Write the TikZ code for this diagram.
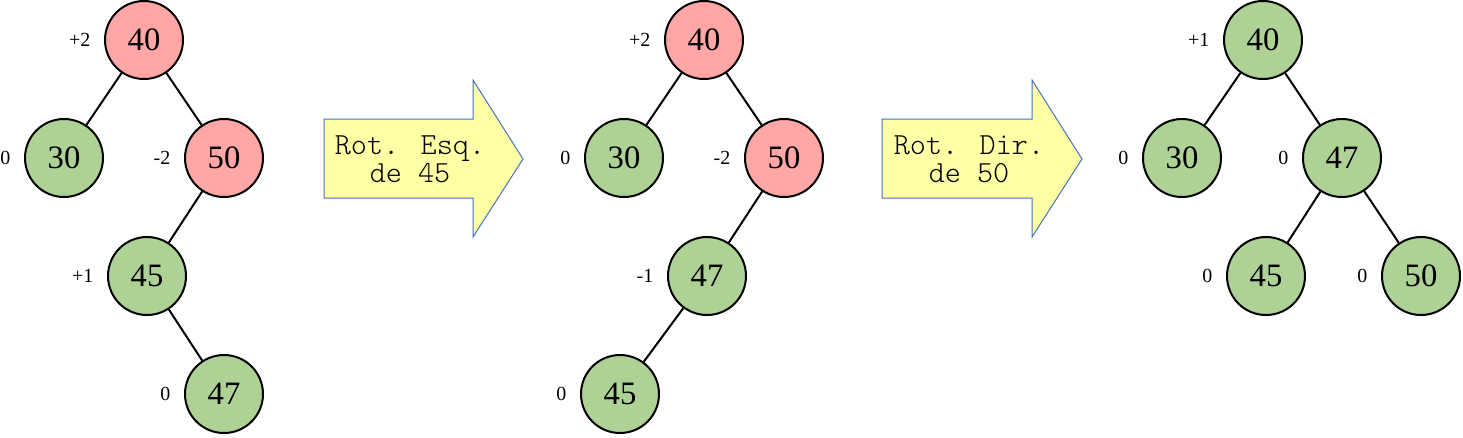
\documentclass[tikz,border=0pt]{standalone}
\usepackage{fontspec}
\setmainfont{Liberation Serif}
\newfontfamily\rotfont{Latin Modern Mono Light}
\definecolor{nodered}{HTML}{FFA6A6}
\definecolor{nodegreen}{HTML}{AED196}
\definecolor{arrowfill}{HTML}{FFFFA6}
\definecolor{arrowline}{HTML}{4472C4}
\tikzset{
  avl/.style={circle,draw=black,line width=1.5pt,minimum size=58.5pt,inner sep=0pt,font=\fontsize{24.5}{24.5}\selectfont},
  ok/.style={avl,fill=nodegreen},
  bad/.style={avl,fill=nodered},
  edge/.style={line width=1.5pt},
  rotarrow/.style={draw=arrowline,fill=arrowfill,line width=0.75pt},
  rottext/.style={align=center,inner sep=0pt,font=\rotfont\fontsize{23}{21}\selectfont}
}
\begin{document}
\begin{tikzpicture}[x=0.75pt,y=-0.75pt,label distance=10pt,
  every label/.style={inner sep=0pt,font=\fontsize{15}{15}\selectfont}]
			\useasboundingbox (0,0) rectangle (1463,437);

			%first tree
			\node [bad,label=left:{+2}] (a1) at (144,40) {40};
			\node [ok,label=left:{0}] (a2) at (64,158) {30};
			\node [bad,label=left:{-2}] (a3) at (224,158) {50};
			\node [ok,label=left:{+1}] (a4) at (147,276) {45};
			\node [ok,label=left:{0}] (a5) at (224,394) {47};

			%edges
			\draw[edge] (a1) -- (a2);
			\draw[edge] (a1) -- (a3);
			\draw[edge] (a3) -- (a4);
			\draw[edge] (a4) -- (a5);

			%first rotation
			\draw[rotarrow] (324,119) -- (473,119) -- (473,80) -- (523,159) -- (473,237) -- (473,198) -- (324,198) -- cycle;
			\node [rottext] (r1) at (410,159) {Rot. Esq.\\de 45};

			%second tree
			\node [bad,label=left:{+2}] (b1) at (704,40) {40};
			\node [ok,label=left:{0}] (b2) at (624,158) {30};
			\node [bad,label=left:{-2}] (b3) at (784,158) {50};
			\node [ok,label=left:{-1}] (b4) at (707,276) {47};
			\node [ok,label=left:{0}] (b5) at (620,394) {45};

			%edges
			\draw[edge] (b1) -- (b2);
			\draw[edge] (b1) -- (b3);
			\draw[edge] (b3) -- (b4);
			\draw[edge] (b4) -- (b5);

			%second rotation
			\draw[rotarrow] (882,119) -- (1032,119) -- (1032,80) -- (1082,159) -- (1032,237) -- (1032,198) -- (882,198) -- cycle;
			\node [rottext] (r2) at (969,159) {Rot. Dir.\\de 50};

			%third tree
			\node [ok,label=left:{+1}] (c1) at (1263,40) {40};
			\node [ok,label=left:{0}] (c2) at (1182,158) {30};
			\node [ok,label=left:{0}] (c3) at (1342,158) {47};
			\node [ok,label=left:{0}] (c4) at (1266,276) {45};
			\node [ok,label=left:{0}] (c5) at (1421,276) {50};

			%edges
			\draw[edge] (c1) -- (c2);
			\draw[edge] (c1) -- (c3);
			\draw[edge] (c3) -- (c4);
			\draw[edge] (c3) -- (c5);
		\end{tikzpicture}
\end{document}
